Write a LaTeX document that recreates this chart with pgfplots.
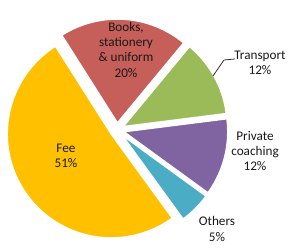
\documentclass[border=0pt]{standalone}
\usepackage{pgfplots}
\usepackage{pgfplotstable}
\pgfplotsset{compat=1.18}
\usepackage{fontspec}
\setmainfont{Carlito}

\definecolor{cfee}{HTML}{FFC000}
\definecolor{cbooks}{HTML}{C65F5A}
\definecolor{ctrans}{HTML}{9BBB59}
\definecolor{cpriv}{HTML}{8064A2}
\definecolor{cothers}{HTML}{4BACC6}

% slices in counter-clockwise order, starting at the start angle
\pgfplotstableread{
label value
Others 5
Private 12
Transport 12
Books 20
Fee 51
}\piedata

\def\startangle{-54}
\def\cx{117}\def\cy{121}\def\ex{7}\def\R{104}

\pgfplotstablegetelem{0}{value}\of\piedata \let\vA\pgfplotsretval
\pgfplotstablegetelem{1}{value}\of\piedata \let\vB\pgfplotsretval
\pgfplotstablegetelem{2}{value}\of\piedata \let\vC\pgfplotsretval
\pgfplotstablegetelem{3}{value}\of\piedata \let\vD\pgfplotsretval
\pgfplotstablegetelem{4}{value}\of\piedata \let\vE\pgfplotsretval
\pgfmathsetmacro\aA{\startangle}
\pgfmathsetmacro\aB{\aA+3.6*\vA}
\pgfmathsetmacro\aC{\aB+3.6*\vB}
\pgfmathsetmacro\aD{\aC+3.6*\vC}
\pgfmathsetmacro\aE{\aD+3.6*\vD}
\pgfmathsetmacro\aF{\aE+3.6*\vE}

\newcommand\pieslice[3]{%
  \pgfmathsetmacro\mid{(#1+#2)/2}%
  \pgfmathsetmacro\apx{\cx+\ex*cos(\mid)}%
  \pgfmathsetmacro\apy{\cy+\ex*sin(\mid)}%
  \edef\tmp{\noexpand\addplot[fill=#3, draw=white, line width=1.5pt, domain=#1:#2, samples=80, variable=\noexpand\t]
    ({\apx+\R*cos(\noexpand\t)},{\apy+\R*sin(\noexpand\t)}) -- (axis cs:\apx,\apy) -- cycle;}%
  \tmp
}

\begin{document}
\begin{tikzpicture}
\begin{axis}[
  scale only axis, width=300pt, height=251pt,
  xmin=0, xmax=300, ymin=0, ymax=251,
  hide axis, clip=false,
]
\addplot[draw=none] coordinates {(0,0) (300,251)};
\pieslice{\aA}{\aB}{cothers}
\pieslice{\aB}{\aC}{cpriv}
\pieslice{\aC}{\aD}{ctrans}
\pieslice{\aD}{\aE}{cbooks}
\pieslice{\aE}{\aF}{cfee}
\addplot[black!80, line width=0.8pt] coordinates {(213,175) (224,191) (235,192)};
\begin{scope}[every node/.style={align=center, font=\fontsize{13.2}{15.3}\selectfont, text=black!90}]
\node at (axis cs:126,201.3) {Books,\\stationery\\\& uniform\\20\%};
\node at (axis cs:260,188) {Transport\\12\%};
\node at (axis cs:255,100) {Private\\coaching\\12\%};
\node at (axis cs:217,22) {Others\\5\%};
\node at (axis cs:66,95.5) {Fee\\51\%};
\end{scope}
\end{axis}
\end{tikzpicture}
\end{document}
